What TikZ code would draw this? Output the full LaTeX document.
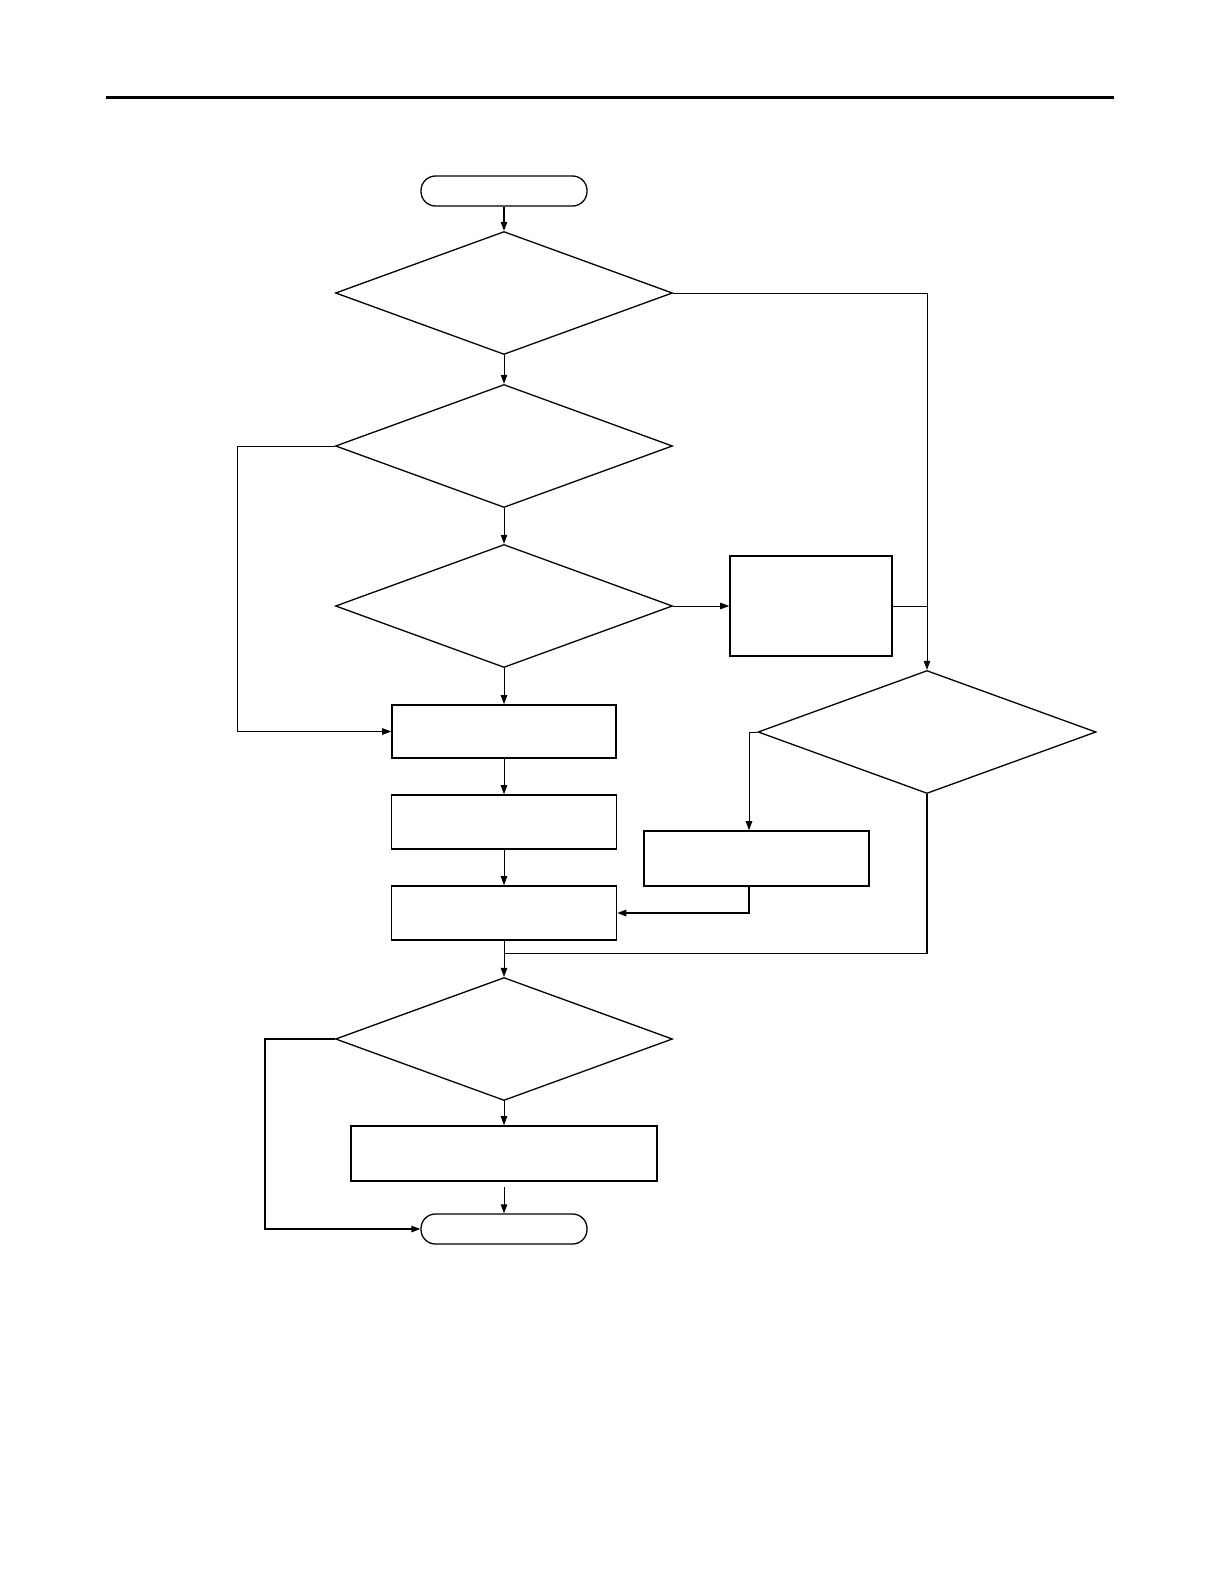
\documentclass[tikz,border=0pt]{standalone}
\usetikzlibrary{shapes.geometric,arrows.meta}
\begin{document}
\begin{tikzpicture}[x=1pt,y=-1pt,
  dia/.style={draw,diamond,line width=1.3pt,minimum width=337pt,minimum height=123pt,inner sep=0pt},
  box/.style={draw,rectangle,line width=1.6pt,inner sep=0pt},
  term/.style={draw,rectangle,rounded corners=14.5pt,line width=1.3pt,minimum width=166pt,minimum height=30pt,inner sep=0pt},
  conn/.style={line width=0.9pt},
  arr/.style={conn,-{Triangle[length=9pt,width=6.5pt]}}]
\useasboundingbox (0,0) rectangle (1224,1584);
\draw[line width=3pt] (106,98) -- (1114,98);
\node[term] (start) at (504,191) {};
\node[dia] (d1) at (504,293) {};
\node[dia] (d2) at (504,446) {};
\node[dia] (d3) at (504,606) {};
\node[box,minimum width=162pt,minimum height=100pt] (r1) at (811,606) {};
\node[dia,minimum width=338pt] (d4) at (927,732) {};
\node[box,minimum width=224pt,minimum height=53pt] (b1) at (504,731.5) {};
\node[box,minimum width=225pt,minimum height=54pt] (b2) at (504,822) {};
\node[box,minimum width=225pt,minimum height=54pt] (b3) at (504,913) {};
\node[box,minimum width=225pt,minimum height=55pt] (r2) at (756.5,858.5) {};
\node[dia] (d5) at (504,1039) {};
\node[box,minimum width=306pt,minimum height=55pt] (b4) at (504,1153.5) {};
\node[term,minimum height=30pt] (end) at (504,1229) {};
\coordinate (kl) at (237,446);
\coordinate (k4) at (749,732);
\coordinate (j) at (504,953.5);
\coordinate (k5) at (265,1039);
\draw[arr,line width=1.4pt] (start.south) -- (d1.north);
\draw[arr] (d1.south) -- (d2.north);
\draw[arr] (d1.east) -| (d4.north);
\draw[arr] (d2.south) -- (d3.north);
\draw[arr] (d2.west) -- (kl) |- (b1.west);
\draw[arr] (d3.east) -- (r1.west);
\draw[conn] (r1.east) -- (r1.east -| d4.north);
\draw[arr] (d3.south) -- (b1.north);
\draw[arr] (b1.south) -- (b2.north);
\draw[arr] (b2.south) -- (b3.north);
\draw[arr] (d4.west) -- (k4) -- (k4 |- r2.north);
\draw[arr,line width=1.4pt] (k4 |- r2.south) |- (b3.east);
\draw[conn,line width=1.4pt] (d4.south) |- (j);
\draw[arr] (b3.south) -- (d5.north);
\draw[arr] (d5.south) -- (b4.north);
\draw[arr,line width=1.3pt] (d5.west) -- (k5) |- (end.west);
\draw[arr,shorten <=5pt] (b4.south) -- (end.north);
\end{tikzpicture}
\end{document}
